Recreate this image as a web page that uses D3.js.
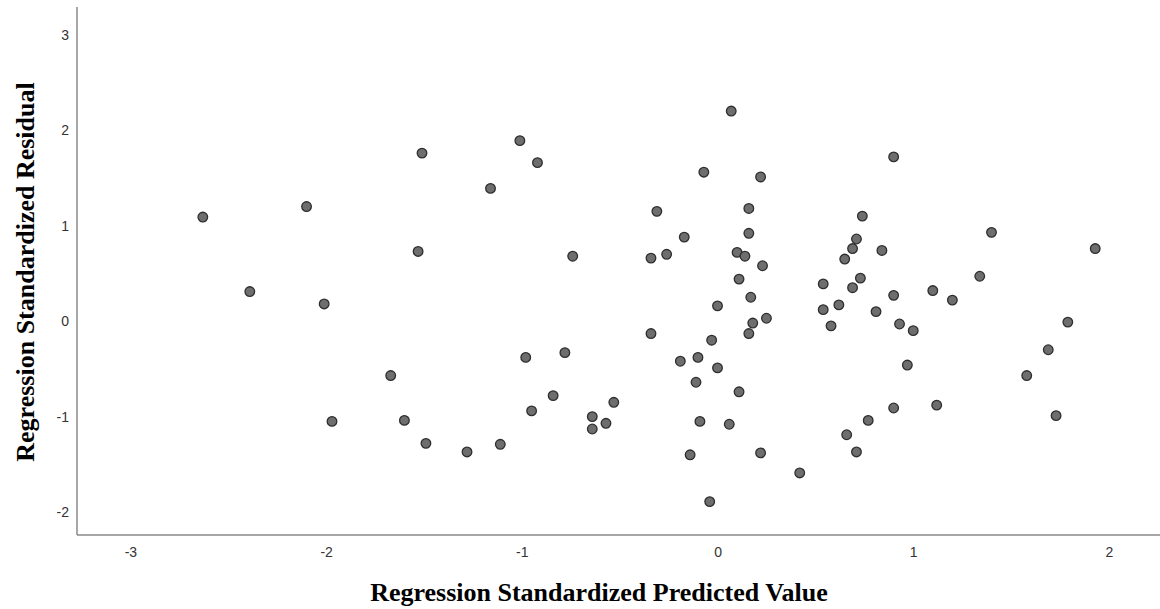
<!DOCTYPE html>
<html>
<head>
<meta charset="utf-8">
<script src="https://cdn.jsdelivr.net/npm/d3@7"></script>
<style>
  html, body { margin: 0; padding: 0; background: #fff; }
  svg { display: block; }
</style>
</head>
<body>
<svg id="chart" width="1160" height="609"></svg>
<script>
// Regression Standardized Predicted Value
const predicted = [
  -2.63, -2.39, -2.10, -2.01, -1.97, -1.67, -1.60, -1.53, -1.51, -1.49,
  -1.28, -1.16, -1.11, -1.01, -0.98, -0.95, -0.92, -0.84, -0.78, -0.74,
  -0.64, -0.64, -0.57, -0.53, -0.34, -0.34, -0.31, -0.26, -0.19, -0.17,
  -0.14, -0.11, -0.10, -0.09, -0.07, -0.04, -0.03, 0.00, 0.00, 0.06,
  0.07, 0.10, 0.11, 0.11, 0.14, 0.16, 0.16, 0.16, 0.17, 0.18,
  0.22, 0.22, 0.23, 0.25, 0.42, 0.54, 0.54, 0.58, 0.62, 0.65,
  0.66, 0.69, 0.69, 0.71, 0.71, 0.73, 0.74, 0.77, 0.81, 0.84,
  0.90, 0.90, 0.90, 0.93, 0.97, 1.00, 1.10, 1.12, 1.20, 1.34,
  1.40, 1.58, 1.69, 1.73, 1.79, 1.93
];
// Regression Standardized Residual
const residual = [
  1.09, 0.31, 1.20, 0.18, -1.05, -0.57, -1.04, 0.73, 1.76, -1.28,
  -1.37, 1.39, -1.29, 1.89, -0.38, -0.94, 1.66, -0.78, -0.33, 0.68,
  -1.13, -1.00, -1.07, -0.85, 0.66, -0.13, 1.15, 0.70, -0.42, 0.88,
  -1.40, -0.64, -0.38, -1.05, 1.56, -1.89, -0.20, -0.49, 0.16, -1.08,
  2.20, 0.72, -0.74, 0.44, 0.68, 0.92, -0.13, 1.18, 0.25, -0.02,
  1.51, -1.38, 0.58, 0.03, -1.59, 0.39, 0.12, -0.05, 0.17, 0.65,
  -1.19, 0.76, 0.35, -1.37, 0.86, 0.45, 1.10, -1.04, 0.10, 0.74,
  0.27, 1.72, -0.91, -0.03, -0.46, -0.10, 0.32, -0.88, 0.22, 0.47,
  0.93, -0.57, -0.30, -0.99, -0.01, 0.76
];
const xTicks = [-3, -2, -1, 0, 1, 2];
const yTicks = [-2, -1, 0, 1, 2, 3];
const xTitle = "Regression Standardized Predicted Value";
const yTitle = "Regression Standardized Residual";

const data = predicted.map((p, i) => ({ x: p, y: residual[i] }));

const svg = d3.select("#chart");
const plotLeft = 77, plotRight = 1160, plotTop = 7, plotBottom = 535;

const x = d3.scaleLinear().domain([-3.273, 2.261]).range([plotLeft, plotRight]);
const y = d3.scaleLinear().domain([-2.24, 3.29]).range([plotBottom, plotTop]);

const axisColor = "#8a8a8a";
const labelFont = "'Liberation Sans', Arial, sans-serif";
const titleFont = "'Liberation Serif', 'Times New Roman', serif";
const fmt = d => String(d);

// X axis
const gx = svg.append("g").attr("transform", `translate(0,${plotBottom})`)
  .call(d3.axisBottom(x).tickValues(xTicks).tickSize(0).tickPadding(12).tickFormat(fmt));
gx.select(".domain").attr("stroke", axisColor).attr("stroke-width", 1.5).attr("d", `M${plotLeft},0H${plotRight}`);
gx.selectAll("text").attr("font-family", labelFont).attr("font-size", 14).attr("fill", "#333");

// Y axis
const gy = svg.append("g").attr("transform", `translate(${plotLeft},0)`)
  .call(d3.axisLeft(y).tickValues(yTicks).tickSize(0).tickPadding(8).tickFormat(fmt));
gy.select(".domain").attr("stroke", axisColor).attr("stroke-width", 1.5).attr("d", `M0,${plotTop}V${plotBottom}`);
gy.selectAll("text").attr("font-family", labelFont).attr("font-size", 14).attr("fill", "#333");

// Points
svg.append("g").selectAll("circle").data(data).join("circle")
  .attr("cx", d => x(d.x))
  .attr("cy", d => y(d.y))
  .attr("r", 4.8)
  .attr("fill", "#6e6e6e")
  .attr("stroke", "#2e2e2e")
  .attr("stroke-width", 1.3);

// Titles
svg.append("text")
  .attr("x", 599).attr("y", 601)
  .attr("text-anchor", "middle")
  .attr("font-family", titleFont).attr("font-weight", "bold").attr("font-size", 26)
  .attr("fill", "#000")
  .text(xTitle);

svg.append("text")
  .attr("transform", "translate(34,272) rotate(-90)")
  .attr("text-anchor", "middle")
  .attr("font-family", titleFont).attr("font-weight", "bold").attr("font-size", 26)
  .attr("fill", "#000")
  .text(yTitle);
</script>
</body>
</html>
